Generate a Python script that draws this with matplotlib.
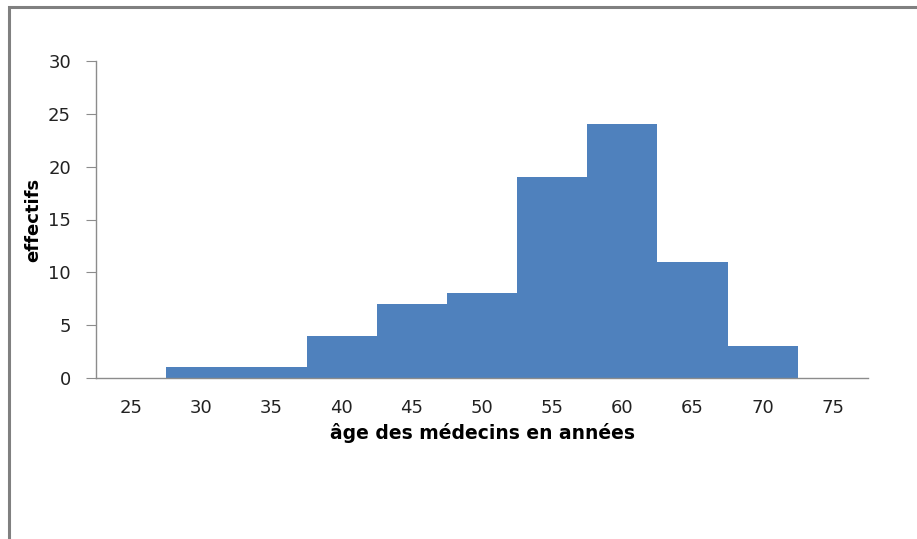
import matplotlib.pyplot as plt
from matplotlib.patches import Rectangle

ages = [25, 30, 35, 40, 45, 50, 55, 60, 65, 70, 75]
effectifs = [0, 1, 1, 4, 7, 8, 19, 24, 11, 3, 0]

plt.rcParams['font.family'] = ['DejaVu Sans']

fig = plt.figure(figsize=(9.17, 5.39), dpi=100)
ax = fig.add_axes([96 / 917, 1 - 378 / 539, 772 / 917, 317 / 539])

pos = list(range(len(ages)))
ax.bar(pos, effectifs, width=1.0, color='#4F81BD', linewidth=0)

ax.set_xlim(-0.5, len(ages) - 0.5)
ax.set_ylim(0, 30)
ax.set_yticks(range(0, 31, 5))
ax.set_xticks(pos)
ax.set_xticklabels([str(a) for a in ages])

for s in ['top', 'right']:
    ax.spines[s].set_visible(False)
for s in ['left', 'bottom']:
    ax.spines[s].set_color('#8C8C8C')
    ax.spines[s].set_linewidth(1.0)

ax.tick_params(axis='y', length=7, color='#8C8C8C', labelsize=13, labelcolor='#222222', pad=11)
ax.tick_params(axis='x', length=0, labelsize=13, labelcolor='#222222', pad=15)

ax.set_xlabel('âge des médecins en années', fontsize=13.5, fontweight='bold')
ax.xaxis.set_label_coords(0.5, -0.142)
ax.set_ylabel('effectifs', fontsize=13, fontweight='bold')
ax.yaxis.set_label_coords(-0.070, 0.5)

# outer chart frame, running off the right and bottom edges
fig.patches.append(Rectangle((9 / 917, -0.1), 1.2, 1 - 7 / 539 + 0.1,
                             transform=fig.transFigure, fill=False,
                             edgecolor='#808080', linewidth=2.2))

fig.savefig('out.png', dpi=100)
